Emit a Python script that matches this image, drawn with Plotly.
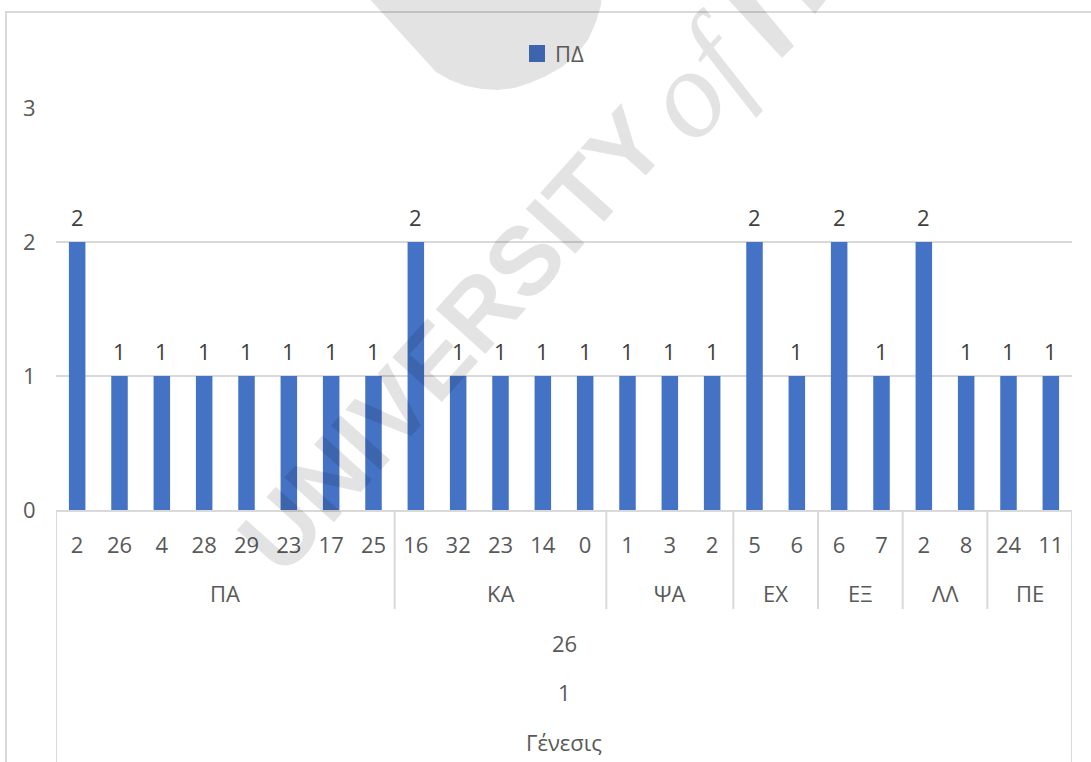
import plotly.graph_objects as go

# ---- data ----
x_labels = ["2", "26", "4", "28", "29", "23", "17", "25",
            "16", "32", "23", "14", "0",
            "1", "3", "2",
            "5", "6",
            "6", "7",
            "2", "8",
            "24", "11"]
values = [2, 1, 1, 1, 1, 1, 1, 1,
          2, 1, 1, 1, 1,
          1, 1, 1,
          2, 1,
          2, 1,
          2, 1,
          1, 1]
group_names = ["ΠΑ", "ΚΑ", "ΨΑ", "ΕΧ", "ΕΞ", "ΛΛ", "ΠΕ"]
group_sizes = [8, 5, 3, 2, 2, 2, 2]
outer_levels = ["26", "1", "Γένεσις"]
series_name = "ΠΔ"
y_ticks = [0, 1, 2, 3]

# ---- layout geometry ----
W, H = 1091, 762
L, R, T, B = 56, 19, 108, 252
PW, PH = W - L - R, H - T - B


def pxx(p):
    return (p - L) / PW


def pyy(p):
    return (H - B - p) / PH


FONT = "Open Sans"
FS = 22
AXIS_COL = "#595959"
LINE_COL = "#d9d9d9"
BAR_COL = "#4472C4"

idx = list(range(len(values)))
n = len(values)

fig = go.Figure()
fig.add_trace(go.Bar(
    x=idx, y=values, name=series_name, showlegend=False,
    width=0.39,
    marker=dict(color=BAR_COL, line=dict(color=BAR_COL, width=0)),
    hoverinfo="skip",
))

annotations = []
shapes = []

# legend (key square + series name)
shapes.append(dict(type="rect", xref="paper", yref="paper",
                   x0=pxx(529), x1=pxx(545), y0=pyy(45), y1=pyy(62),
                   fillcolor=BAR_COL, line=dict(width=0)))
annotations.append(dict(x=pxx(553), y=pyy(53), xref="paper", yref="paper",
                        text=series_name, showarrow=False, xanchor="left",
                        yanchor="middle",
                        font=dict(family=FONT, size=FS, color=AXIS_COL)))

# data labels
for i, v in zip(idx, values):
    annotations.append(dict(x=i, y=v, xref="x", yref="y", text=str(v),
                            showarrow=False, yshift=25,
                            font=dict(family=FONT, size=FS, color="#404040")))

# group labels and separators
start = 0
bounds = [-0.5]
for name, size in zip(group_names, group_sizes):
    center = start + (size - 1) / 2
    annotations.append(dict(x=center, y=pyy(593), xref="x", yref="paper",
                            text=name, showarrow=False, yanchor="middle",
                            font=dict(family=FONT, size=FS, color=AXIS_COL)))
    start += size
    bounds.append(start - 0.5)

for b in bounds[1:-1]:
    shapes.append(dict(type="line", xref="x", yref="paper", x0=b, x1=b,
                       y0=0, y1=pyy(609), line=dict(color=LINE_COL, width=2)))
for b in (bounds[0], bounds[-1]):
    shapes.append(dict(type="line", xref="x", yref="paper", x0=b, x1=b,
                       y0=0, y1=pyy(775), line=dict(color=LINE_COL, width=2)))

# outer levels
center_all = (n - 1) / 2
for lab, ypix in zip(outer_levels, [643, 692, 742]):
    annotations.append(dict(x=center_all, y=pyy(ypix), xref="x", yref="paper",
                            text=lab, showarrow=False, yanchor="middle",
                            font=dict(family=FONT, size=FS, color=AXIS_COL)))

# chart outer border
shapes.append(dict(type="rect", xref="paper", yref="paper",
                   x0=pxx(6), x1=pxx(1100), y0=pyy(12), y1=pyy(780),
                   line=dict(color=LINE_COL, width=2), layer="below"))

# ---- watermark ----
WM = "rgba(0,0,0,0.11)"


def path_px(pts):
    return "M " + " L ".join(f"{pxx(x):.4f},{pyy(y):.4f}" for x, y in pts) + " Z"


blob = [(366, -5), (436, 72), (450, 80), (466, 86), (482, 89), (498, 90),
        (514, 88), (530, 83), (546, 76), (562, 67), (576, 55), (588, 40),
        (596, 22), (601, 5), (602, -5)]
n_stem = [(724, -5), (752, -5), (794, 46), (782, 58)]
n_diag = [(797, -5), (830, -5), (815, 14)]
for pts in (blob, n_stem, n_diag):
    shapes.append(dict(type="path", xref="paper", yref="paper", path=path_px(pts),
                       fillcolor=WM, line=dict(width=0), layer="above"))

annotations.append(dict(x=pxx(452), y=pyy(340), xref="paper", yref="paper",
                        text="<b>UNIVERSITY</b>", showarrow=False, textangle=-48,
                        xanchor="center", yanchor="middle",
                        font=dict(family="Liberation Sans", size=97, color=WM)))
annotations.append(dict(x=pxx(700), y=pyy(78), xref="paper", yref="paper",
                        text="<i>of</i>", showarrow=False, textangle=-48,
                        xanchor="center", yanchor="middle",
                        font=dict(family="Liberation Serif", size=125, color=WM)))

fig.update_layout(
    width=W, height=H,
    margin=dict(l=L, r=R, t=T, b=B, autoexpand=False),
    paper_bgcolor="white", plot_bgcolor="white",
    bargap=0.6,
    showlegend=False,
    font=dict(family=FONT, color=AXIS_COL, size=FS),
    xaxis=dict(tickmode="array", tickvals=idx, ticktext=x_labels,
               range=[-0.5, n - 0.5], showgrid=False, zeroline=False,
               showline=True, linecolor=LINE_COL, linewidth=2,
               ticks="outside", ticklen=15, tickcolor="rgba(0,0,0,0)",
               tickfont=dict(family=FONT, size=FS, color=AXIS_COL),
               fixedrange=True),
    yaxis=dict(range=[0, 3], tickmode="array", tickvals=y_ticks,
               showgrid=True, gridcolor=LINE_COL, gridwidth=1.5,
               zeroline=False, showline=False,
               ticks="outside", ticklen=15, tickcolor="rgba(0,0,0,0)",
               tickfont=dict(family=FONT, size=FS, color=AXIS_COL),
               fixedrange=True),
    shapes=shapes,
    annotations=annotations,
)

fig.write_html("out.html", config={"displayModeBar": False},
               post_script="document.body.style.margin='0';")
